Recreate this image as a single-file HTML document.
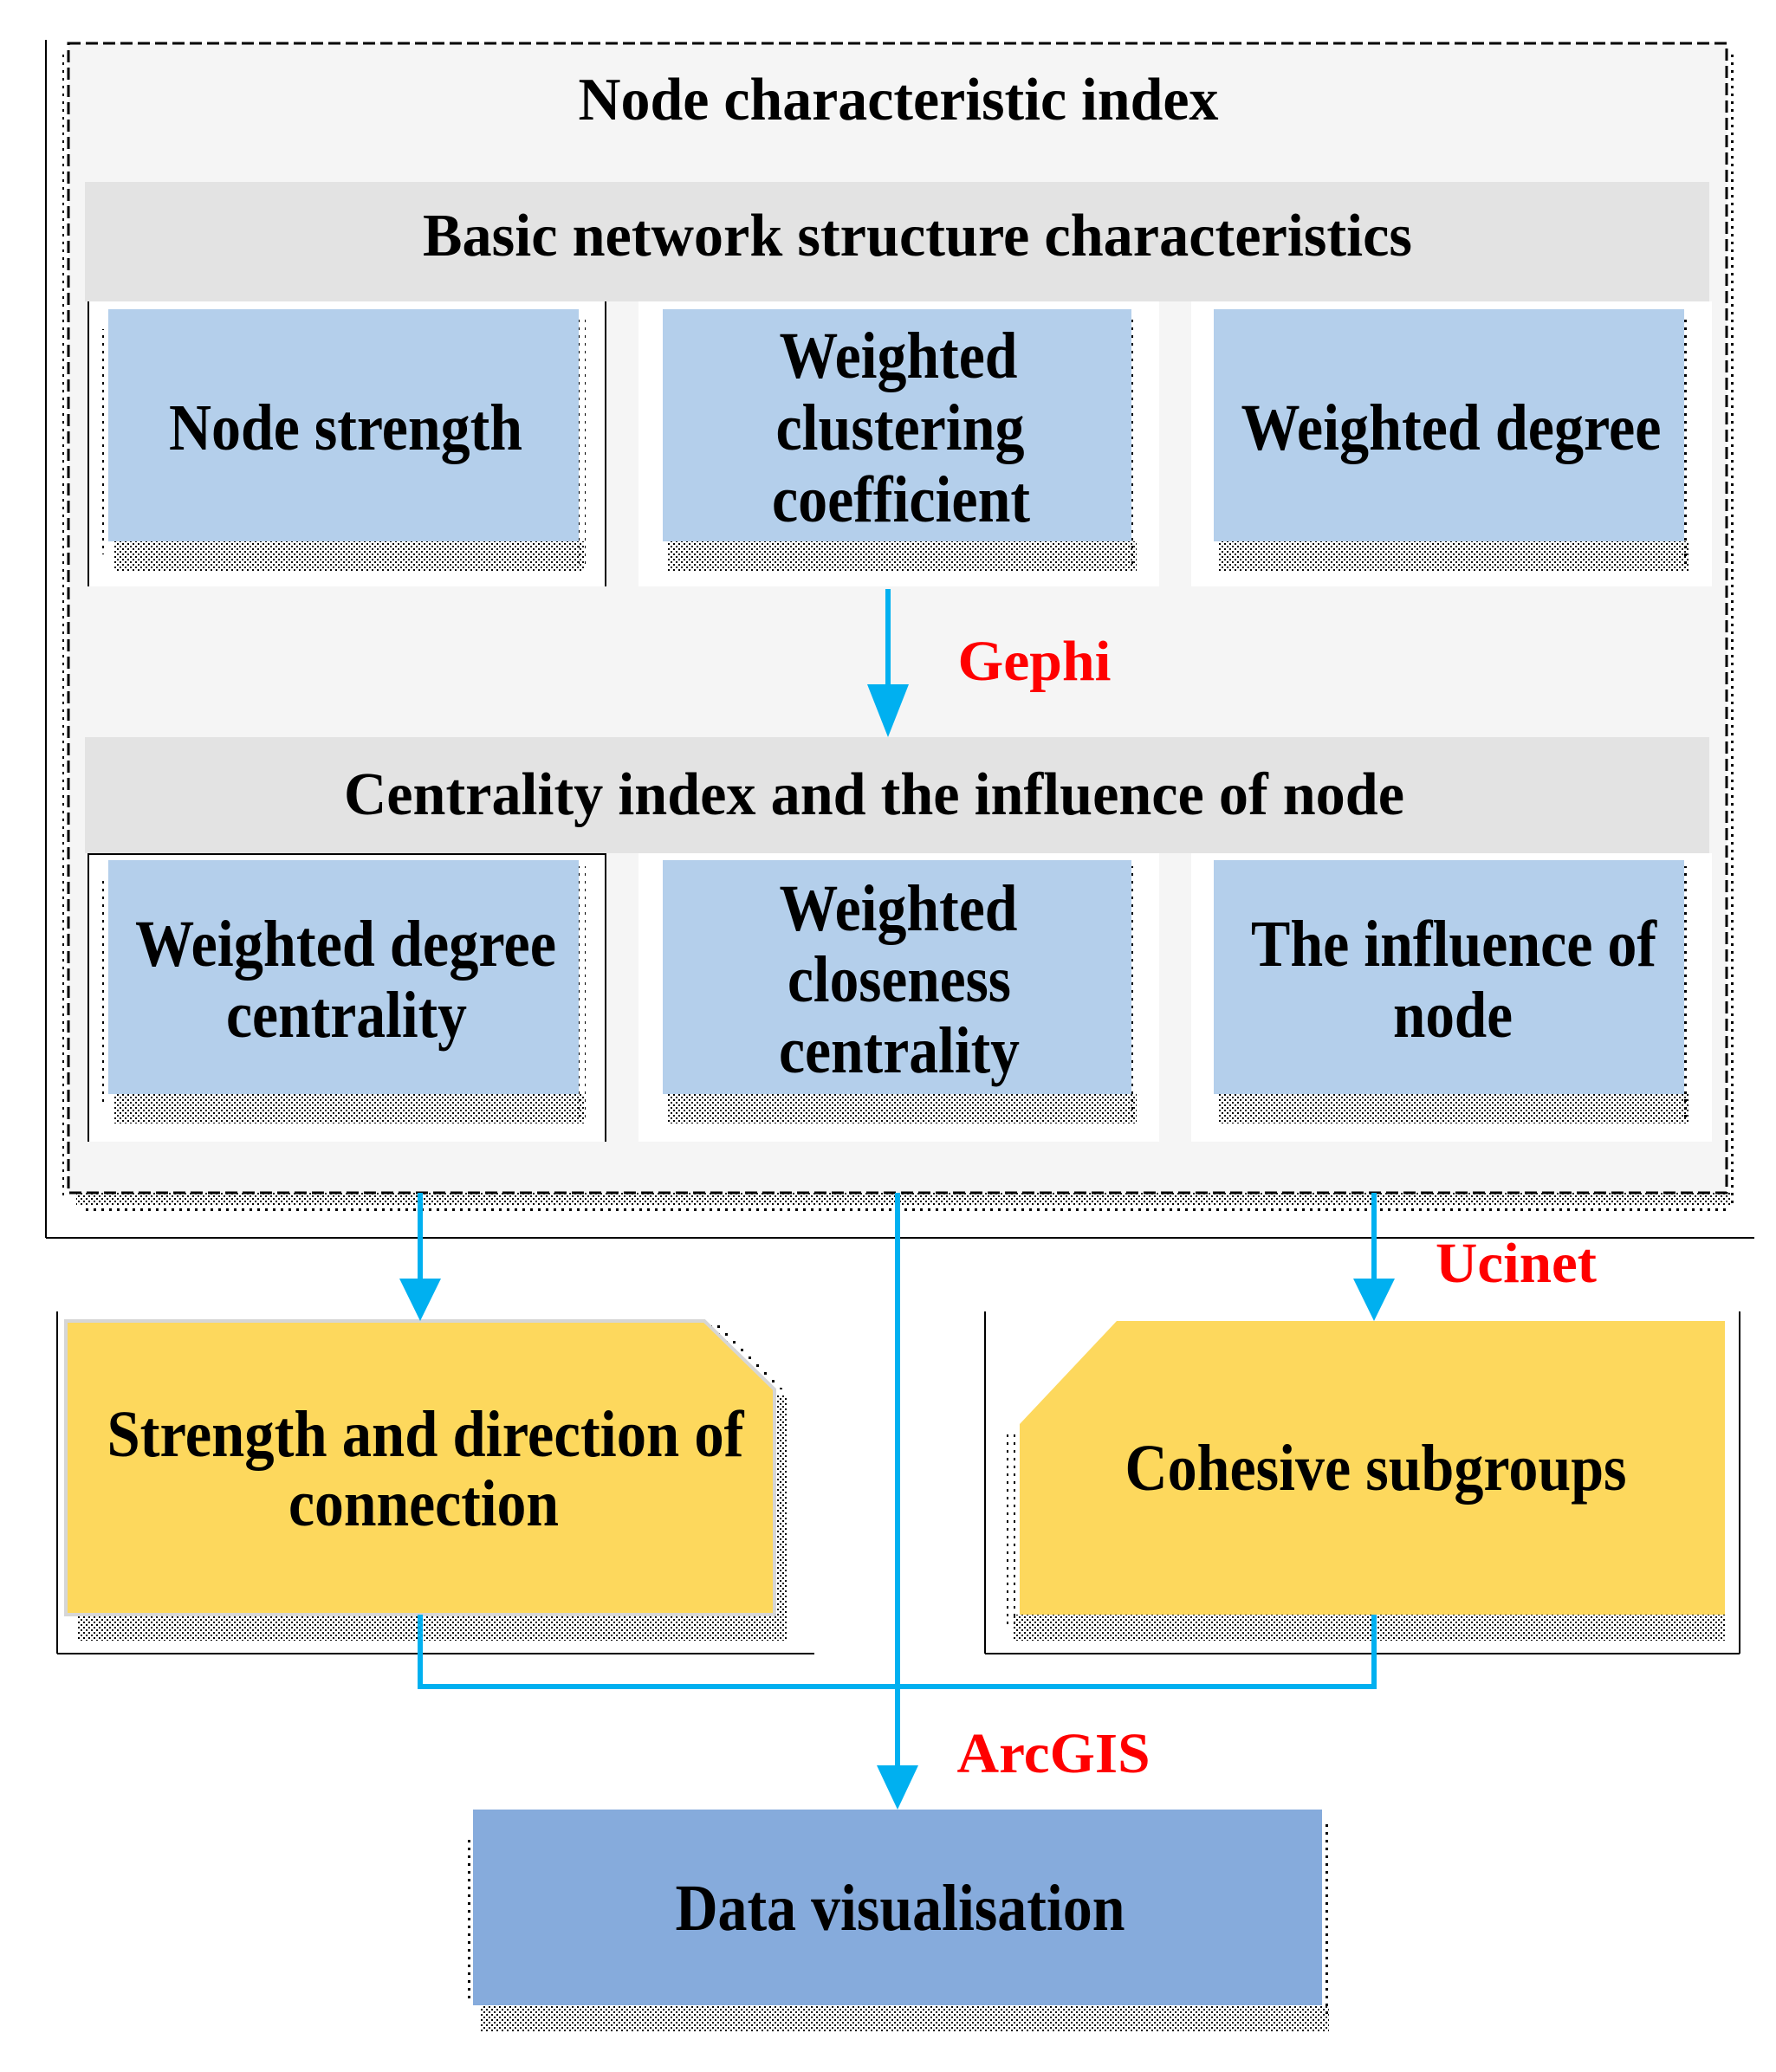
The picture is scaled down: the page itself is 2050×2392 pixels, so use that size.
<!DOCTYPE html>
<html><head><meta charset="utf-8"><style>html,body{margin:0;padding:0;background:#fff}svg{display:block}</style></head>
<body>
<svg width="2050" height="2392" viewBox="0 0 2050 2392" xmlns="http://www.w3.org/2000/svg" font-family="'Liberation Serif', serif" font-weight="bold">
<defs>
<pattern id="dots" width="6" height="6" patternUnits="userSpaceOnUse">
<rect x="0" y="0" width="2" height="2" fill="#000"/><rect x="3" y="3" width="2" height="2" fill="#000"/>
</pattern>
<pattern id="dots2" width="9" height="9" patternUnits="userSpaceOnUse">
<rect x="0" y="0" width="3" height="3" fill="#000"/>
</pattern>
</defs>

<!-- outer thin frame -->
<line x1="53" y1="46" x2="53" y2="1429" stroke="#000" stroke-width="2"/>
<line x1="53" y1="1429" x2="2025" y2="1429" stroke="#000" stroke-width="2"/>

<!-- dashed box shadow -->
<rect x="88" y="1377" width="1910" height="14" fill="url(#dots)"/>
<rect x="95" y="1391" width="1900" height="10" fill="url(#dots2)"/>
<rect x="1993" y="60" width="8" height="1330" fill="url(#dots2)"/>
<rect x="68" y="60" width="6" height="1320" fill="url(#dots2)"/>
<!-- dashed main box -->
<rect x="79" y="50" width="1914" height="1327" fill="#f5f5f5" stroke="#000" stroke-width="3" stroke-dasharray="14,6"/>
<text x="1037" y="138" font-size="70" text-anchor="middle" textLength="739" lengthAdjust="spacingAndGlyphs">Node characteristic index</text>

<!-- band 1 -->
<rect x="98" y="210" width="1875" height="138" fill="#e3e3e3"/>
<text x="1059" y="295" font-size="70" text-anchor="middle" textLength="1142" lengthAdjust="spacingAndGlyphs">Basic network structure characteristics</text>

<!-- row1 panels -->
<rect x="102" y="348" width="597" height="329" fill="#fff"/>
<line x1="102" y1="348" x2="102" y2="677" stroke="#000" stroke-width="2"/>
<line x1="699" y1="348" x2="699" y2="677" stroke="#000" stroke-width="2"/>
<rect x="737" y="348" width="601" height="329" fill="#fff"/>
<rect x="1375" y="348" width="601" height="329" fill="#fff"/>

<!-- band 2 -->
<rect x="98" y="851" width="1875" height="134" fill="#e3e3e3"/>
<text x="1009" y="940" font-size="70" text-anchor="middle" textLength="1224" lengthAdjust="spacingAndGlyphs">Centrality index and the influence of node</text>
<rect x="102" y="985" width="597" height="333" fill="#fff"/>
<line x1="102" y1="986" x2="699" y2="986" stroke="#000" stroke-width="2"/>
<line x1="102" y1="985" x2="102" y2="1318" stroke="#000" stroke-width="2"/>
<line x1="699" y1="985" x2="699" y2="1318" stroke="#000" stroke-width="2"/>
<rect x="737" y="985" width="601" height="333" fill="#fff"/>
<rect x="1375" y="985" width="601" height="333" fill="#fff"/>

<!-- blue boxes row1 -->
<g>
<rect x="131" y="625" width="543" height="34" fill="url(#dots)"/>
<rect x="668" y="365" width="8" height="290" fill="url(#dots2)"/>
<rect x="118" y="380" width="6" height="260" fill="url(#dots2)"/>
<rect x="125" y="357" width="543" height="268" fill="#b4cfeb"/>
<text x="399" y="519" font-size="76" text-anchor="middle" textLength="408" lengthAdjust="spacingAndGlyphs">Node strength</text>

<rect x="771" y="625" width="541" height="34" fill="url(#dots)"/>
<rect x="1306" y="365" width="8" height="290" fill="url(#dots2)"/>
<rect x="765" y="357" width="541" height="268" fill="#b4cfeb"/>
<text x="1037" y="436" font-size="76" text-anchor="middle" textLength="275" lengthAdjust="spacingAndGlyphs">Weighted</text>
<text x="1039" y="519" font-size="76" text-anchor="middle" textLength="287" lengthAdjust="spacingAndGlyphs">clustering</text>
<text x="1040" y="602" font-size="76" text-anchor="middle" textLength="298" lengthAdjust="spacingAndGlyphs">coefficient</text>

<rect x="1407" y="625" width="543" height="34" fill="url(#dots)"/>
<rect x="1944" y="365" width="8" height="290" fill="url(#dots2)"/>
<rect x="1401" y="357" width="543" height="268" fill="#b4cfeb"/>
<text x="1675" y="519" font-size="76" text-anchor="middle" textLength="485" lengthAdjust="spacingAndGlyphs">Weighted degree</text>
</g>

<!-- blue boxes row2 -->
<g>
<rect x="131" y="1263" width="543" height="34" fill="url(#dots)"/>
<rect x="668" y="1000" width="8" height="290" fill="url(#dots2)"/>
<rect x="118" y="1015" width="6" height="260" fill="url(#dots2)"/>
<rect x="125" y="993" width="543" height="270" fill="#b4cfeb"/>
<text x="399" y="1115" font-size="76" text-anchor="middle" textLength="486" lengthAdjust="spacingAndGlyphs">Weighted degree</text>
<text x="400" y="1197" font-size="76" text-anchor="middle" textLength="278" lengthAdjust="spacingAndGlyphs">centrality</text>

<rect x="771" y="1263" width="541" height="34" fill="url(#dots)"/>
<rect x="1306" y="1000" width="8" height="290" fill="url(#dots2)"/>
<rect x="765" y="993" width="541" height="270" fill="#b4cfeb"/>
<text x="1037" y="1074" font-size="76" text-anchor="middle" textLength="275" lengthAdjust="spacingAndGlyphs">Weighted</text>
<text x="1038" y="1156" font-size="76" text-anchor="middle" textLength="258" lengthAdjust="spacingAndGlyphs">closeness</text>
<text x="1038" y="1238" font-size="76" text-anchor="middle" textLength="278" lengthAdjust="spacingAndGlyphs">centrality</text>

<rect x="1407" y="1263" width="543" height="34" fill="url(#dots)"/>
<rect x="1944" y="1000" width="8" height="290" fill="url(#dots2)"/>
<rect x="1401" y="993" width="543" height="270" fill="#b4cfeb"/>
<text x="1678" y="1115" font-size="76" text-anchor="middle" textLength="468" lengthAdjust="spacingAndGlyphs">The influence of</text>
<text x="1677" y="1197" font-size="76" text-anchor="middle" textLength="138" lengthAdjust="spacingAndGlyphs">node</text>
</g>

<!-- Gephi arrow -->
<line x1="1025" y1="680" x2="1025" y2="800" stroke="#00b0f0" stroke-width="6"/>
<polygon points="1001,790 1049,790 1025,851" fill="#00b0f0"/>
<text x="1194" y="785" font-size="66" fill="#ff0000" text-anchor="middle" textLength="177" lengthAdjust="spacingAndGlyphs">Gephi</text>

<!-- lower panels -->
<line x1="66" y1="1514" x2="66" y2="1909" stroke="#000" stroke-width="2"/>
<line x1="66" y1="1909" x2="940" y2="1909" stroke="#000" stroke-width="2"/>
<line x1="1137" y1="1514" x2="1137" y2="1909" stroke="#000" stroke-width="2"/>
<line x1="1137" y1="1909" x2="2008" y2="1909" stroke="#000" stroke-width="2"/>
<line x1="2008" y1="1514" x2="2008" y2="1909" stroke="#000" stroke-width="2"/>

<!-- yellow left -->
<rect x="90" y="1864" width="818" height="30" fill="url(#dots)"/>
<rect x="894" y="1610" width="14" height="270" fill="url(#dots)"/>
<polygon points="813,1525 828,1525 904,1604 894,1604" fill="url(#dots2)"/>
<polygon points="76,1525 813,1525 894,1604 894,1864 76,1864" fill="#fdd85d" stroke="#d6d6d6" stroke-width="4"/>
<text x="491" y="1681" font-size="76" text-anchor="middle" textLength="735" lengthAdjust="spacingAndGlyphs">Strength and direction of</text>
<text x="489" y="1761" font-size="76" text-anchor="middle" textLength="312" lengthAdjust="spacingAndGlyphs">connection</text>

<!-- yellow right -->
<rect x="1170" y="1864" width="822" height="30" fill="url(#dots)"/>
<rect x="1162" y="1650" width="10" height="230" fill="url(#dots2)"/>
<polygon points="1289,1525 1991,1525 1991,1864 1177,1864 1177,1644" fill="#fdd85d"/>
<text x="1588" y="1720" font-size="76" text-anchor="middle" textLength="579" lengthAdjust="spacingAndGlyphs">Cohesive subgroups</text>

<!-- lower arrows -->
<line x1="485" y1="1377" x2="485" y2="1480" stroke="#00b0f0" stroke-width="6"/>
<polygon points="461,1476 509,1476 485,1525" fill="#00b0f0"/>
<line x1="1586" y1="1377" x2="1586" y2="1480" stroke="#00b0f0" stroke-width="6"/>
<polygon points="1562,1476 1610,1476 1586,1525" fill="#00b0f0"/>
<text x="1750" y="1480" font-size="66" fill="#ff0000" text-anchor="middle" textLength="186" lengthAdjust="spacingAndGlyphs">Ucinet</text>

<!-- connector -->
<polyline points="485,1864 485,1947 1586,1947 1586,1864" fill="none" stroke="#00b0f0" stroke-width="6"/>
<line x1="1036" y1="1377" x2="1036" y2="2045" stroke="#00b0f0" stroke-width="6"/>
<polygon points="1012,2038 1060,2038 1036,2089" fill="#00b0f0"/>
<text x="1216" y="2046" font-size="66" fill="#ff0000" text-anchor="middle" textLength="223" lengthAdjust="spacingAndGlyphs">ArcGIS</text>

<!-- data visualisation -->
<rect x="554" y="2315" width="980" height="30" fill="url(#dots)"/>
<rect x="1526" y="2100" width="8" height="230" fill="url(#dots2)"/>
<rect x="537" y="2120" width="6" height="190" fill="url(#dots2)"/>
<rect x="546" y="2089" width="980" height="226" fill="#86abdc"/>
<text x="1039" y="2228" font-size="76" text-anchor="middle" textLength="519" lengthAdjust="spacingAndGlyphs">Data visualisation</text>
</svg>
</body></html>
